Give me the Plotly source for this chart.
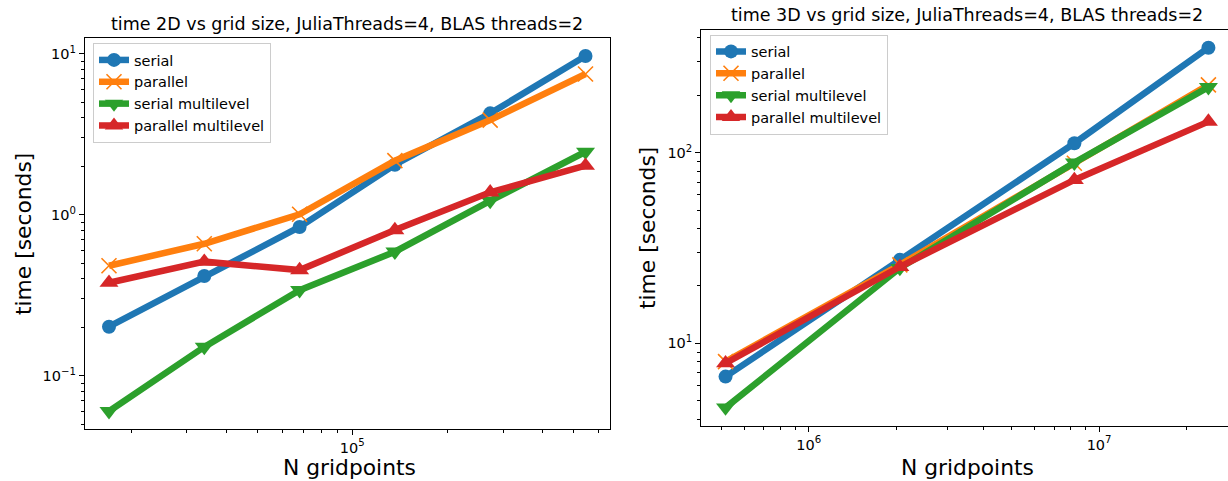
import plotly.graph_objects as go

# ---------------- data ----------------
series_names = ["serial", "parallel", "serial multilevel", "parallel multilevel"]

x_2d = [17040, 34080, 68160, 136300, 272600, 545300]
serial_2d = [0.2015, 0.416, 0.839, 2.044, 4.26, 9.68]
parallel_2d = [0.482, 0.660, 1.006, 2.165, 3.87, 7.48]
serial_ml_2d = [0.0602, 0.151, 0.340, 0.589, 1.217, 2.46]
parallel_ml_2d = [0.378, 0.511, 0.453, 0.803, 1.377, 2.015]

x_3d = [517000, 2060000, 8220000, 23800000]
serial_3d = [6.69, 27.4, 112.0, 355.0]
parallel_3d = [8.02, 25.8, 88.0, 226.5]
serial_ml_3d = [4.60, 24.8, 88.6, 220.3]
parallel_ml_3d = [7.86, 25.2, 71.9, 145.4]

title_2d = "time 2D vs grid size, JuliaThreads=4, BLAS threads=2"
title_3d = "time 3D vs grid size, JuliaThreads=4, BLAS threads=2"
xlabel = "N gridpoints"
ylabel = "time [seconds]"

# ---------------- style ----------------
W, H = 1228, 481
FONT = "DejaVu Sans"
colors = ["#1f77b4", "#ff7f0e", "#2ca02c", "#d62728"]
symbols = ["circle", "x-thin", "triangle-down", "triangle-up"]
msizes = [14, 15, 16.5, 16.5]
LW = 6.5

def px_x(p):
    return p / W

def px_y(p):
    return (H - p) / H

fig = go.Figure()

def add_series(xs, ys_list, xa, ya, legend):
    for i, (name, ys) in enumerate(zip(series_names, ys_list)):
        marker = dict(symbol=symbols[i], size=msizes[i], color=colors[i])
        if symbols[i] == "x-thin":
            marker["line"] = dict(color=colors[i], width=1.6)
        else:
            marker["line"] = dict(width=0)
        fig.add_trace(go.Scatter(
            x=xs, y=ys, name=name, mode="lines+markers",
            line=dict(color=colors[i], width=LW),
            marker=marker, xaxis=xa, yaxis=ya, legend=legend,
        ))

add_series(x_2d, [serial_2d, parallel_2d, serial_ml_2d, parallel_ml_2d], "x", "y", "legend")
add_series(x_3d, [serial_3d, parallel_3d, serial_ml_3d, parallel_ml_3d], "x2", "y2", "legend2")

def sup(e):
    s = str(e).replace("-", "\u2212")
    return "10<sup>%s</sup>" % s

tickfont = dict(family=FONT, size=14.5, color="black")
common = dict(type="log", showgrid=False, zeroline=False, showline=True,
              linecolor="black", linewidth=1.2, ticks="outside", ticklen=5,
              tickwidth=1.2, tickcolor="black", tickfont=tickfont,
              tickmode="array")

minor_x2d = [2e4, 3e4, 4e4, 5e4, 6e4, 7e4, 8e4, 9e4, 2e5, 3e5, 4e5, 5e5, 6e5]
minor_y2d = [0.05, 0.06, 0.07, 0.08, 0.09, 0.2, 0.3, 0.4, 0.5, 0.6, 0.7, 0.8, 0.9,
             2, 3, 4, 5, 6, 7, 8, 9]
minor_x3d = [5e5, 6e5, 7e5, 8e5, 9e5, 2e6, 3e6, 4e6, 5e6, 6e6, 7e6, 8e6, 9e6, 2e7]
minor_y3d = [4, 5, 6, 7, 8, 9, 20, 30, 40, 50, 60, 70, 80, 90, 200, 300, 400]

def minor(vals):
    return dict(tickmode="array", tickvals=vals, ticks="outside", ticklen=3,
                tickwidth=1.0, tickcolor="black", showgrid=False)

fig.update_layout(
    width=W, height=H, margin=dict(l=0, r=0, t=0, b=0),
    paper_bgcolor="white", plot_bgcolor="white",
    font=dict(family=FONT, color="black"),
    xaxis=dict(**common, domain=[px_x(85), px_x(609.5)], range=[4.1557, 5.8124],
               tickvals=[1e5], ticktext=[sup(5)], mirror=True, anchor="y",
               minor=minor(minor_x2d)),
    yaxis=dict(**common, domain=[px_y(429), px_y(38)], range=[-1.331, 1.0975],
               tickvals=[0.1, 1, 10], ticktext=[sup(-1), sup(0), sup(1)],
               mirror=True, anchor="x", minor=minor(minor_y2d)),
    xaxis2=dict(**common, domain=[px_x(701.3), 1.0], range=[5.630, 7.444],
                tickvals=[1e6, 1e7], ticktext=[sup(6), sup(7)], mirror=True,
                anchor="y2", minor=minor(minor_x3d)),
    yaxis2=dict(**common, domain=[px_y(426), px_y(30)], range=[0.5663, 2.643],
                tickvals=[10, 100], ticktext=[sup(1), sup(2)], mirror=False,
                anchor="x2", minor=minor(minor_y3d)),
    legend=dict(x=px_x(93), y=px_y(43), xanchor="left", yanchor="top",
                bgcolor="rgba(255,255,255,0.8)", bordercolor="#cccccc",
                borderwidth=1, font=dict(family=FONT, size=14.5, color="black")),
    legend2=dict(x=px_x(710), y=px_y(34.5), xanchor="left", yanchor="top",
                 bgcolor="rgba(255,255,255,0.8)", bordercolor="#cccccc",
                 borderwidth=1, font=dict(family=FONT, size=14.5, color="black")),
)

ann = []
ann.append(dict(text=title_2d, x=px_x(347), y=px_y(24), xref="paper", yref="paper",
                xanchor="center", yanchor="middle", showarrow=False,
                font=dict(family=FONT, size=17.5, color="black")))
ann.append(dict(text=title_3d, x=px_x(967), y=px_y(15), xref="paper", yref="paper",
                xanchor="center", yanchor="middle", showarrow=False,
                font=dict(family=FONT, size=17.5, color="black")))
for cx in (349, 967):
    ann.append(dict(text=xlabel, x=px_x(cx), y=px_y(467), xref="paper", yref="paper",
                    xanchor="center", yanchor="middle", showarrow=False,
                    font=dict(family=FONT, size=21.8, color="black")))
for cx, cy in ((23, 234), (647, 228)):
    ann.append(dict(text=ylabel, x=px_x(cx), y=px_y(cy), xref="paper", yref="paper",
                    xanchor="center", yanchor="middle", showarrow=False, textangle=-90,
                    font=dict(family=FONT, size=21.8, color="black")))
fig.update_layout(annotations=ann)

fig.write_html("out.html")
